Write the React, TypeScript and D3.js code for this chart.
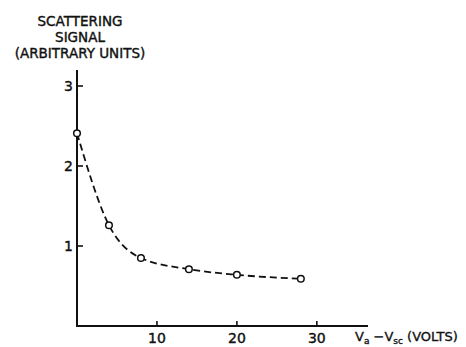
import React, { useEffect, useRef } from "react";
import * as d3 from "d3";

const voltage = [0, 4, 8, 14, 20, 28];
const signal = [2.41, 1.26, 0.85, 0.71, 0.64, 0.59];
const xTicks = [10, 20, 30];
const yTicks = [1, 2, 3];
const titleLines = ["SCATTERING", "SIGNAL", "(ARBITRARY UNITS)"];

export default function App() {
  const ref = useRef<SVGSVGElement>(null);
  useEffect(() => {
    const svg = d3.select(ref.current);
    svg.selectAll("*").remove();
    const W = 466, H = 347;
    const x = d3.scaleLinear().domain([0, 36.4]).range([77, 368]);
    const y = d3.scaleLinear().domain([0, 3]).range([326, 86]);
    const ink = "#111";
    const font = "'DejaVu Sans', sans-serif";

    svg.append("rect").attr("width", W).attr("height", H).attr("fill", "white");

    svg.append("line").attr("x1", x(0)).attr("x2", x(0)).attr("y1", y(3.2)).attr("y2", y(0) + 1)
      .attr("stroke", ink).attr("stroke-width", 2);
    svg.append("line").attr("x1", x(0) - 1).attr("x2", x(36.4)).attr("y1", y(0)).attr("y2", y(0))
      .attr("stroke", ink).attr("stroke-width", 2);

    yTicks.forEach((t) => {
      svg.append("line").attr("x1", x(0)).attr("x2", x(0) + 6).attr("y1", y(t)).attr("y2", y(t))
        .attr("stroke", ink).attr("stroke-width", 1.6);
      svg.append("text").attr("x", x(0) - 4).attr("y", y(t) + 5).attr("text-anchor", "end")
        .attr("font-family", font).attr("font-size", 14).attr("fill", ink)
        .attr("stroke", ink).attr("stroke-width", 0.4).text(String(t));
    });
    xTicks.forEach((t) => {
      svg.append("line").attr("x1", x(t)).attr("x2", x(t)).attr("y1", y(0)).attr("y2", y(0) - 5)
        .attr("stroke", ink).attr("stroke-width", 1.6);
      svg.append("text").attr("x", x(t)).attr("y", 343).attr("text-anchor", "middle")
        .attr("font-family", font).attr("font-size", 14).attr("fill", ink)
        .attr("stroke", ink).attr("stroke-width", 0.4).text(String(t));
    });

    const pts: [number, number][] = voltage.map((v, i) => [x(v), y(signal[i])]);
    const line = d3.line().curve(d3.curveMonotoneX);
    svg.append("path").attr("d", line(pts) as string).attr("fill", "none").attr("stroke", ink)
      .attr("stroke-width", 1.8).attr("stroke-dasharray", "7,4");

    svg.selectAll("circle.pt").data(pts).enter().append("circle")
      .attr("cx", (d) => d[0]).attr("cy", (d) => d[1]).attr("r", 3.3)
      .attr("fill", "white").attr("stroke", ink).attr("stroke-width", 1.5);

    titleLines.forEach((s, i) => {
      svg.append("text").attr("x", 80).attr("y", 26 + i * 16).attr("text-anchor", "middle")
        .attr("font-family", font).attr("font-size", 13.5).attr("fill", ink)
        .attr("stroke", ink).attr("stroke-width", 0.4).text(s);
    });

    const xl = svg.append("text").attr("x", 355).attr("y", 341)
      .attr("font-family", font).attr("font-size", 13).attr("fill", ink)
      .attr("stroke", ink).attr("stroke-width", 0.35);
    xl.append("tspan").text("V");
    xl.append("tspan").attr("font-size", 9).attr("dy", 2.5).text("a");
    xl.append("tspan").attr("dy", -2.5).text(" \u2212V");
    xl.append("tspan").attr("font-size", 9).attr("dy", 2.5).text("sc");
    xl.append("tspan").attr("dy", -2.5).text(" (VOLTS)");
  }, []);
  return (
    <svg ref={ref} width={466} height={347} style={{ position: "absolute", left: 0, top: 0 }} />
  );
}
